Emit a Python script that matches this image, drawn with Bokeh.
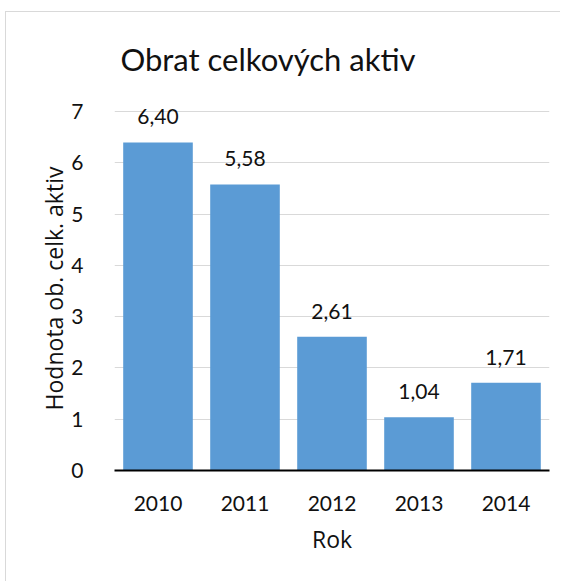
from bokeh.plotting import figure
from bokeh.models import ColumnDataSource, FactorRange, Range1d, LabelSet, Spacer, Div
from bokeh.layouts import column, row
from bokeh.core.properties import value
from bokeh.embed import file_html
from bokeh.resources import INLINE

title = "Obrat celkových aktiv"
years = ["2010", "2011", "2012", "2013", "2014"]
values = [6.40, 5.58, 2.61, 1.04, 1.71]
value_labels = ["6,40", "5,58", "2,61", "1,04", "1,71"]
y_ticks = [0, 1, 2, 3, 4, 5, 6, 7]

FONT = "Lato"
LFONT = "Open Sans"
TXT = "#111111"

src = ColumnDataSource(dict(x=years, top=values, lab=value_labels))

title_div = Div(
    text=(f'<div style="width:524px;text-align:center;font-family:{FONT};'
          f'font-size:31px;line-height:40px;margin-top:27px;color:{TXT};">{title}</div>'),
    width=555, height=84, margin=0)

p = figure(width=555, height=486, x_range=FactorRange(*years, range_padding=0),
           y_range=Range1d(0, 7.1), output_backend="svg", toolbar_location=None,
           min_border_left=108, min_border_right=12, min_border_top=10,
           min_border_bottom=112, margin=0)
p.outline_line_color = None
p.background_fill_color = "white"
p.border_fill_color = "white"

p.vbar(x="x", top="top", width=0.8, source=src, fill_color="#5B9BD5", line_color=None)

p.add_layout(LabelSet(x="x", y="top", text="lab", source=src, text_align="center",
                      text_baseline="bottom", y_offset=18, text_font=value(FONT),
                      text_font_size=value("21px"), text_color=TXT))

p.xgrid.grid_line_color = None
p.ygrid.grid_line_color = "#d9d9d9"
p.ygrid.grid_line_width = 1
p.yaxis.ticker = y_ticks
p.yaxis.axis_line_color = None
p.yaxis.major_tick_line_color = None
p.yaxis.minor_tick_line_color = None
p.yaxis.major_label_standoff = 25
p.yaxis.axis_label = "Hodnota ob. celk. aktiv"
p.yaxis.axis_label_standoff = -2
p.xaxis.axis_label = "Rok"
p.xaxis.axis_label_standoff = 9
p.xaxis.axis_line_color = "black"
p.xaxis.axis_line_width = 2
p.xaxis.major_tick_line_color = None
p.xaxis.minor_tick_line_color = None
p.xaxis.major_label_standoff = 19
for ax in (p.xaxis, p.yaxis):
    ax.major_label_text_font = FONT
    ax.major_label_text_font_size = "21px"
    ax.major_label_text_color = TXT
    ax.axis_label_text_font = LFONT
    ax.axis_label_text_font_size = "23px"
    ax.axis_label_text_font_style = "normal"
    ax.axis_label_text_color = TXT

chart = column(title_div, p, spacing=0)
chart.styles = {"box-shadow": "-1px -1px 0 0 #d9d9d9"}
layout = row(Spacer(width=6, height=582),
             column(Spacer(height=12, width=555), chart, spacing=0), spacing=0)
open("out.html", "w").write(file_html(layout, INLINE))
